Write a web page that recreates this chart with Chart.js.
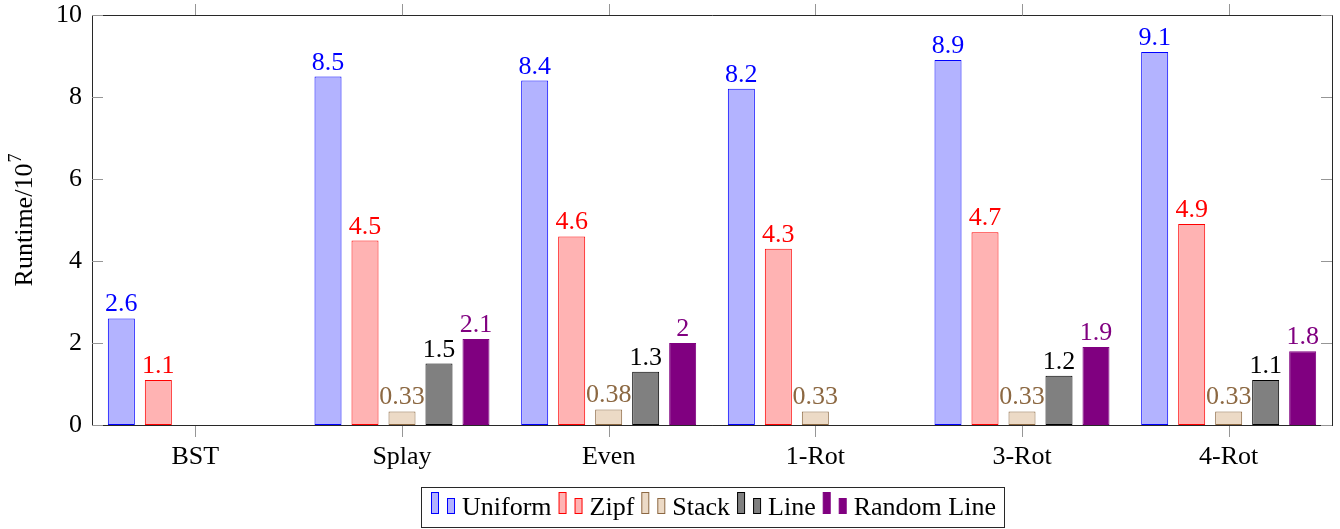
<!DOCTYPE html>
<html>
<head>
<meta charset="utf-8">
<script src="https://cdn.jsdelivr.net/npm/chart.js@4"></script>
<style>
  body { margin: 0; background: #fff; }
  canvas { display: block; }
</style>
</head>
<body>
<canvas id="chart" width="1340" height="529"></canvas>
<script>
const categories = ['BST', 'Splay', 'Even', '1-Rot', '3-Rot', '4-Rot'];
const uniform = [2.6, 8.5, 8.4, 8.2, 8.9, 9.1];
const zipf = [1.1, 4.5, 4.6, 4.3, 4.7, 4.9];
const stack = [null, 0.33, 0.38, 0.33, 0.33, 0.33];
const line = [null, 1.5, 1.3, null, 1.2, 1.1];
const randomLine = [null, 2.1, 2, null, 1.9, 1.8];
const yTicks = [0, 2, 4, 6, 8, 10];

const SERIF = '"Liberation Serif", "Times New Roman", serif';
const FS = 26;

// colores estilo pgfplots: relleno, borde, etiqueta
const series = [
  { label: 'Uniform', data: uniform, fill: 'rgb(179,179,255)', border: 'rgb(0,0,255)', text: 'rgb(0,0,255)' },
  { label: 'Zipf', data: zipf, fill: 'rgb(255,179,179)', border: 'rgb(255,0,0)', text: 'rgb(255,0,0)' },
  { label: 'Stack', data: stack, fill: 'rgb(236,218,198)', border: 'rgb(140,104,66)', text: 'rgb(140,104,66)' },
  { label: 'Line', data: line, fill: 'rgb(128,128,128)', border: 'rgb(0,0,0)', text: 'rgb(0,0,0)' },
  { label: 'Random Line', data: randomLine, fill: 'rgb(128,0,128)', border: 'rgb(128,0,128)', text: 'rgb(128,0,128)' },
];

const extras = {
  id: 'extras',
  afterDatasetsDraw(chart) {
    const ctx = chart.ctx;
    const a = chart.chartArea;
    const x = chart.scales.x;
    const y = chart.scales.y;
    ctx.save();

    // etiquetas de valor encima de cada barra
    ctx.font = FS + 'px ' + SERIF;
    ctx.textAlign = 'center';
    ctx.textBaseline = 'alphabetic';
    chart.data.datasets.forEach((ds, i) => {
      const meta = chart.getDatasetMeta(i);
      meta.data.forEach((bar, j) => {
        const v = ds.data[j];
        if (v === null || v === undefined) return;
        ctx.fillStyle = series[i].text;
        ctx.fillText(String(v), bar.x, bar.y - 7);
      });
    });

    // eje inferior por encima de las barras + marco superior y derecho
    ctx.strokeStyle = 'rgb(40,40,40)';
    ctx.lineWidth = 1;
    ctx.beginPath();
    ctx.moveTo(a.left, Math.round(a.bottom) + 0.5);
    ctx.lineTo(a.right + 0.5, Math.round(a.bottom) + 0.5);
    ctx.moveTo(a.left, a.top + 0.5);
    ctx.lineTo(a.right + 0.5, a.top + 0.5);
    ctx.lineTo(a.right + 0.5, a.bottom);
    ctx.stroke();

    // marcas de los ejes
    ctx.strokeStyle = 'rgb(150,150,150)';
    ctx.beginPath();
    yTicks.forEach(t => {
      const py = Math.round(y.getPixelForValue(t)) + 0.5;
      ctx.moveTo(a.left, py); ctx.lineTo(a.left + 11, py);
      ctx.moveTo(a.right, py); ctx.lineTo(a.right - 11, py);
    });
    categories.forEach((c, i) => {
      const px = Math.round(x.getPixelForValue(i)) + 0.5;
      ctx.moveTo(px, a.bottom + 1); ctx.lineTo(px, a.bottom + 12);
      ctx.moveTo(px, a.top); ctx.lineTo(px, a.top - 11);
    });
    ctx.stroke();

    // titulo del eje y con exponente
    ctx.fillStyle = '#000';
    ctx.translate(32, (a.top + a.bottom) / 2);
    ctx.rotate(-Math.PI / 2);
    ctx.textAlign = 'left';
    ctx.font = FS + 'px ' + SERIF;
    const main = 'Runtime/10';
    const wMain = ctx.measureText(main).width;
    ctx.font = '18px ' + SERIF;
    const wSup = ctx.measureText('7').width;
    const start = -(wMain + wSup + 1) / 2;
    ctx.font = FS + 'px ' + SERIF;
    ctx.fillText(main, start, 0);
    ctx.font = '18px ' + SERIF;
    ctx.fillText('7', start + wMain + 1, -11);
    ctx.restore();

    // leyenda
    ctx.save();
    ctx.font = FS + 'px ' + SERIF;
    ctx.textAlign = 'left';
    let total = 9;
    series.forEach((s, i) => {
      total += 31 + ctx.measureText(s.label).width + (i < series.length - 1 ? 7 : 9);
    });
    const boxL = Math.round((a.left + a.right) / 2 - total / 2) + 0.5;
    ctx.strokeStyle = 'rgb(40,40,40)';
    ctx.strokeRect(boxL, 487.5, Math.round(total), 40);
    let cx = Math.round(boxL) + 9;
    const base = 514;
    series.forEach(s => {
      ctx.fillStyle = s.fill;
      ctx.strokeStyle = s.border;
      ctx.fillRect(cx + 0.5, base - 21.5, 7, 21);
      ctx.strokeRect(cx + 0.5, base - 21.5, 7, 21);
      ctx.fillRect(cx + 16.5, base - 15.5, 7, 15);
      ctx.strokeRect(cx + 16.5, base - 15.5, 7, 15);
      cx += 31;
      ctx.fillStyle = '#000';
      ctx.fillText(s.label, cx, base + 1);
      cx += ctx.measureText(s.label).width + 7;
    });
    ctx.restore();
  }
};

Chart.defaults.font.family = SERIF;

new Chart(document.getElementById('chart'), {
  type: 'bar',
  data: {
    labels: categories,
    datasets: series.map(s => ({
      label: s.label,
      data: s.data,
      backgroundColor: s.fill,
      borderColor: s.border,
      borderWidth: 1,
      borderSkipped: false,
      categoryPercentage: 0.895,
      barPercentage: 0.73,
    })),
  },
  options: {
    responsive: false,
    animation: false,
    layout: { padding: { left: 0, right: 8, top: 15, bottom: 0 } },
    plugins: {
      legend: { display: false },
      tooltip: { enabled: false },
    },
    scales: {
      x: {
        grid: { display: false, drawTicks: false },
        border: { display: true, color: 'rgb(40,40,40)', width: 1 },
        ticks: { color: '#000', font: { family: SERIF, size: FS }, padding: 17 },
        afterFit(scale) { scale.height = 104; },
      },
      y: {
        min: 0,
        max: 10,
        afterBuildTicks(scale) { scale.ticks = yTicks.map(v => ({ value: v })); },
        grid: { display: false, drawTicks: false },
        border: { display: true, color: 'rgb(40,40,40)', width: 1 },
        ticks: { color: '#000', font: { family: SERIF, size: FS }, padding: 10 },
        afterFit(scale) {
          scale.width = 92;
          scale.paddingTop = 0;
          scale.paddingBottom = 0;
        },
      },
    },
  },
  plugins: [extras],
});
</script>
</body>
</html>
